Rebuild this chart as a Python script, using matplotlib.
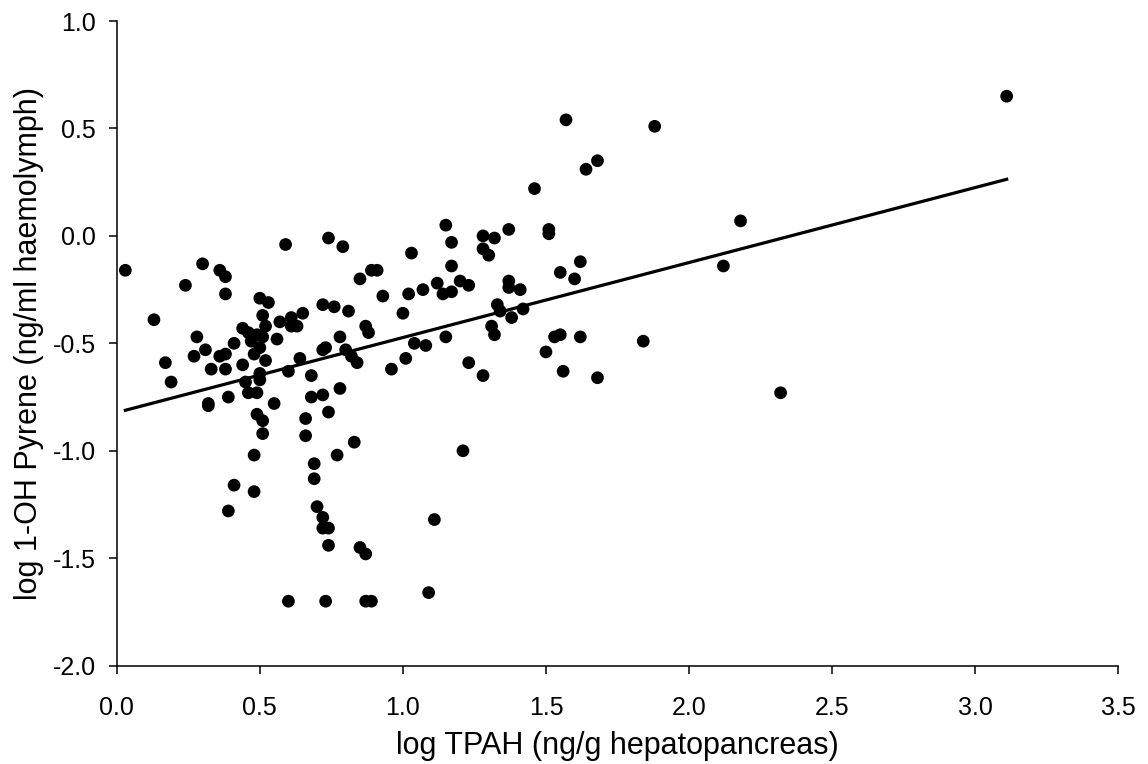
import numpy as np
import matplotlib
matplotlib.use("Agg")
import matplotlib.pyplot as plt

plt.rcParams["font.family"] = ["Liberation Sans", "DejaVu Sans"]

# log TPAH (x) vs log 1-OH pyrene (y)
log_tpah = [
    0.03, 0.13, 0.17, 0.24, 0.30, 0.28, 0.27, 0.31, 0.33, 0.36, 0.38, 0.38,
    0.36, 0.38, 0.38, 0.41, 0.44, 0.44, 0.50, 0.53, 0.51, 0.52, 0.46, 0.49,
    0.51, 0.47, 0.48, 0.50, 0.52, 0.50, 0.56, 0.57, 0.61, 0.65, 0.63, 0.61,
    0.59, 0.60, 0.64, 0.68, 0.72, 0.73, 0.74,
    0.19, 0.32, 0.32, 0.39, 0.45, 0.46, 0.49, 0.50, 0.55, 0.49, 0.51, 0.51,
    0.48, 0.41, 0.48, 0.39, 0.60, 0.73, 0.68, 0.72, 0.66, 0.66, 0.74, 0.69,
    0.69, 0.70, 0.72, 0.72, 0.74, 0.74,
    0.79, 0.76, 0.81, 0.85, 0.89, 0.91, 0.93, 1.03, 1.02, 1.07, 1.00, 0.87,
    0.88, 0.78, 0.72, 0.80, 0.82, 0.84, 0.96, 1.01, 1.04, 1.08, 1.15, 1.15,
    1.17, 1.17, 1.12, 1.14, 1.17, 1.20, 1.23, 1.28, 1.32, 1.28, 1.30, 1.33,
    1.31, 1.32, 1.23, 1.28,
    0.78, 0.83, 0.77, 0.85, 0.87, 1.21, 1.11, 1.09, 0.87, 0.89,
    1.46, 1.37, 1.51, 1.51, 1.62, 1.55, 1.60, 1.37, 1.37, 1.41, 1.34, 1.38,
    1.42, 1.53, 1.55, 1.62, 1.84, 1.50, 1.56, 1.68, 2.12,
    1.57, 1.88, 1.68, 1.64, 3.11, 2.18, 2.32,
]
log_pyrene = [
    -0.16, -0.39, -0.59, -0.23, -0.13, -0.47, -0.56, -0.53, -0.62, -0.16, -0.19, -0.27,
    -0.56, -0.55, -0.62, -0.50, -0.60, -0.43, -0.29, -0.31, -0.37, -0.42, -0.45, -0.46,
    -0.47, -0.49, -0.55, -0.52, -0.58, -0.64, -0.48, -0.40, -0.38, -0.36, -0.42, -0.42,
    -0.04, -0.63, -0.57, -0.65, -0.32, -0.52, -0.01,
    -0.68, -0.78, -0.79, -0.75, -0.68, -0.73, -0.73, -0.67, -0.78, -0.83, -0.86, -0.92,
    -1.02, -1.16, -1.19, -1.28, -1.70, -1.70, -0.75, -0.74, -0.85, -0.93, -0.82, -1.06,
    -1.13, -1.26, -1.31, -1.36, -1.36, -1.44,
    -0.05, -0.33, -0.35, -0.20, -0.16, -0.16, -0.28, -0.08, -0.27, -0.25, -0.36, -0.42,
    -0.45, -0.47, -0.53, -0.53, -0.56, -0.59, -0.62, -0.57, -0.50, -0.51, -0.47, 0.05,
    -0.03, -0.14, -0.22, -0.27, -0.26, -0.21, -0.23, 0.00, -0.01, -0.06, -0.09, -0.32,
    -0.42, -0.46, -0.59, -0.65,
    -0.71, -0.96, -1.02, -1.45, -1.48, -1.00, -1.32, -1.66, -1.70, -1.70,
    0.22, 0.03, 0.03, 0.01, -0.12, -0.17, -0.20, -0.21, -0.24, -0.25, -0.35, -0.38,
    -0.34, -0.47, -0.46, -0.47, -0.49, -0.54, -0.63, -0.66, -0.14,
    0.54, 0.51, 0.35, 0.31, 0.65, 0.07, -0.73,
]

# regression line as printed in the figure
fit_slope = 0.349
fit_intercept = -0.822

x = np.array(log_tpah)
y = np.array(log_pyrene)

fig = plt.figure(figsize=(11.48, 7.64), dpi=100)
ax = fig.add_axes([0.1017, 0.1287, 0.8724, 0.8438])

ax.scatter(x, y, s=84, color="black", edgecolors="none", zorder=3)
xl = np.array([x.min(), x.max()])
ax.plot(xl, fit_intercept + fit_slope * xl, color="black", lw=2.3, zorder=2)

ax.set_xlim(0, 3.5)
ax.set_ylim(-2.0, 1.0)
ax.set_xticks(np.arange(0, 3.51, 0.5))
ax.set_yticks(np.arange(-2.0, 1.01, 0.5))
ax.xaxis.set_major_formatter(matplotlib.ticker.FormatStrFormatter("%.1f"))
ax.yaxis.set_major_formatter(matplotlib.ticker.FormatStrFormatter("%.1f"))
for s in ("top", "right"):
    ax.spines[s].set_visible(False)
for s in ("left", "bottom"):
    ax.spines[s].set_linewidth(1.1)
ax.tick_params(direction="out", length=6, width=1.1, labelsize=18)
ax.tick_params(axis="x", pad=16)
ax.tick_params(axis="y", pad=9)

ax.set_xlabel("log TPAH (ng/g hepatopancreas)", fontsize=22, labelpad=8)
ax.set_ylabel("log 1-OH Pyrene (ng/ml haemolymph)", fontsize=22, labelpad=6)

fig.savefig("out.png", dpi=100)
